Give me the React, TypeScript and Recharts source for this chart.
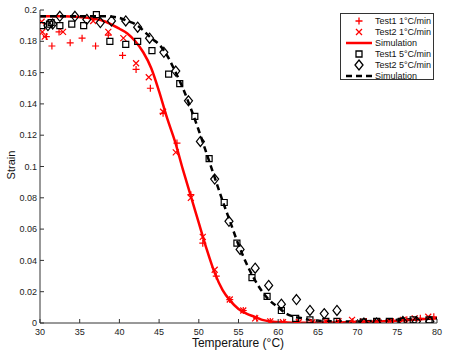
import React from 'react';
import { ComposedChart, Line, Scatter, XAxis, YAxis } from 'recharts';

const xTicks = [30, 35, 40, 45, 50, 55, 60, 65, 70, 75, 80];
const yTicks = [0, 0.02, 0.04, 0.06, 0.08, 0.1, 0.12, 0.14, 0.16, 0.18, 0.2];

// simulation curves
const simTemps = [30, 33, 36, 38, 40, 41, 42, 43, 44, 45, 46, 47, 48, 49, 50, 51, 52, 53, 54, 55, 56, 57, 58, 59, 60, 61, 62, 63, 64, 66, 70, 75, 80];
const simSlow = [0.196, 0.196, 0.195, 0.193, 0.188, 0.185, 0.18, 0.173, 0.163, 0.148, 0.131, 0.116, 0.098, 0.081, 0.064, 0.047, 0.032, 0.021, 0.014, 0.009, 0.006, 0.004, 0.002, 0.001, 0.0006, 0.0003, 0.0002, 0.0002, 0.0002, 0.0003, 0.0006, 0.0015, 0.003];
const simFast = [0.196, 0.196, 0.196, 0.196, 0.195, 0.193, 0.191, 0.187, 0.182, 0.178, 0.171, 0.161, 0.15, 0.137, 0.123, 0.108, 0.093, 0.078, 0.064, 0.05, 0.038, 0.028, 0.02, 0.014, 0.01, 0.006, 0.004, 0.003, 0.002, 0.0012, 0.001, 0.002, 0.003];

// test1 1°C/min (+)
const t1SlowT = [30.8, 31.5, 32.4, 33.8, 35.3, 37.0, 38.6, 40.4, 42.1, 43.9, 45.5, 47.25, 49.0, 50.5, 52.2, 53.9, 55.6, 57.3, 59.0, 60.7, 62.4, 64.2, 66.0, 67.7, 69.4, 71.1, 72.8, 74.5, 76.2, 77.9, 79.6];
const t1SlowS = [0.183, 0.177, 0.186, 0.179, 0.182, 0.177, 0.184, 0.171, 0.162, 0.15, 0.134, 0.115, 0.082, 0.051, 0.03, 0.015, 0.008, 0.003, 0.001, 0.0005, 0.0003, 0.0002, 0.0002, 0.0003, 0.001, 0.001, 0.001, 0.001, 0.002, 0.003, 0.004];

// test2 1°C/min (x)
const t2SlowT = [30.2, 30.3, 30.6, 32.9, 36.7, 38.6, 40.5, 42.1, 43.7, 45.5, 47.1, 49.0, 50.5, 52.0, 53.9, 55.6, 57.1, 59.0, 60.6, 62.6, 64.3, 66.0, 67.6, 69.3, 70.7, 72.4, 74.0, 75.7, 77.2, 78.9];
const t2SlowS = [0.1925, 0.186, 0.183, 0.186, 0.193, 0.186, 0.182, 0.166, 0.157, 0.135, 0.109, 0.08, 0.055, 0.034, 0.015, 0.008, 0.003, 0.001, 0.0005, 0.0005, 0.0005, 0.001, 0.001, 0.002, 0.001, 0.001, 0.001, 0.002, 0.003, 0.004];

// test1 5°C/min (square)
const t1FastT = [30.2, 31.2, 31.4, 32.5, 34.0, 35.5, 37.1, 38.8, 40.8, 42.3, 44.1, 46.2, 47.6, 49.5, 51.3, 53.2, 54.8, 56.7, 58.6, 60.4, 62.2, 64.0, 66.0, 67.4, 70.7, 72.4, 74.0, 75.5, 77.0, 79.0];
const t1FastS = [0.19, 0.191, 0.192, 0.19, 0.191, 0.19, 0.197, 0.18, 0.178, 0.18, 0.174, 0.159, 0.153, 0.132, 0.105, 0.077, 0.051, 0.029, 0.017, 0.008, 0.003, 0.002, 0.001, 0.001, 0.0005, 0.001, 0.001, 0.001, 0.002, 0.002];

// test2 5°C/min (diamond)
const t2FastT = [31.0, 31.6, 32.5, 34.4, 35.9, 37.6, 39.0, 40.8, 42.3, 43.8, 45.6, 47.1, 48.7, 50.2, 52.0, 53.8, 55.2, 57.1, 58.8, 60.4, 62.3, 64.0, 65.8, 67.4, 70.8, 72.4, 75.7, 77.4, 79.1];
const t2FastS = [0.19, 0.191, 0.196, 0.196, 0.194, 0.192, 0.193, 0.193, 0.189, 0.182, 0.173, 0.161, 0.142, 0.116, 0.092, 0.065, 0.047, 0.035, 0.024, 0.012, 0.015, 0.008, 0.006, 0.008, 0.0, 0.0, 0.001, 0.001, 0.001];

const zip = (t: number[], s: number[]) => t.map((x, i) => ({ t: x, s: s[i] }));

const font = '"Liberation Sans", Arial, sans-serif';
const RED = '#ff0000';

const plusPath = (x: number, y: number) => `M${x - 3.5},${y}h7M${x},${y - 3.5}v7`;
const crossPath = (x: number, y: number) => `M${x - 3},${y - 3}l6,6M${x - 3},${y + 3}l6,-6`;
const squarePath = (x: number, y: number) => `M${x - 3},${y - 3}h6v6h-6z`;
const diamondPath = (x: number, y: number) => `M${x},${y - 5}L${x + 4},${y}L${x},${y + 5}L${x - 4},${y}z`;

const PlusShape = (p: any) => <path d={plusPath(p.cx, p.cy)} stroke={RED} strokeWidth={1.2} fill="none" />;
const CrossShape = (p: any) => <path d={crossPath(p.cx, p.cy)} stroke={RED} strokeWidth={1.2} fill="none" />;
const SquareShape = (p: any) => <path d={squarePath(p.cx, p.cy)} stroke="#000" strokeWidth={1.2} fill="none" />;
const DiamondShape = (p: any) => <path d={diamondPath(p.cx, p.cy)} stroke="#000" strokeWidth={1.2} fill="none" />;

const fmtY = (v: number) => String(Number(v.toFixed(2)));

const legendRows = [
  { label: 'Test1 1°C/min', kind: 'plus' },
  { label: 'Test2 1°C/min', kind: 'cross' },
  { label: 'Simulation', kind: 'redline' },
  { label: 'Test1 5°C/min', kind: 'square' },
  { label: 'Test2 5°C/min', kind: 'diamond' },
  { label: 'Simulation', kind: 'dashline' },
];

const Legend = () => (
  <svg width={95} height={68} style={{ position: 'absolute', left: 340, top: 13 }}>
    <rect x={0.5} y={0.5} width={93} height={66} fill="#fff" stroke="#333" strokeWidth={1} />
    {legendRows.map((r, i) => {
      const y = 8 + i * 11;
      const cx = 19;
      let mark: React.ReactNode = null;
      if (r.kind === 'plus') mark = <path d={plusPath(cx, y)} stroke={RED} strokeWidth={1.3} fill="none" />;
      if (r.kind === 'cross') mark = <path d={crossPath(cx, y)} stroke={RED} strokeWidth={1.3} fill="none" />;
      if (r.kind === 'square') mark = <path d={squarePath(cx, y)} stroke="#000" strokeWidth={1.3} fill="none" />;
      if (r.kind === 'diamond') mark = <path d={diamondPath(cx, y)} stroke="#000" strokeWidth={1.3} fill="none" />;
      if (r.kind === 'redline') mark = <line x1={6} x2={32} y1={y} y2={y} stroke={RED} strokeWidth={2.5} />;
      if (r.kind === 'dashline') mark = <line x1={6} x2={32} y1={y} y2={y} stroke="#000" strokeWidth={2.5} strokeDasharray="6 4" />;
      return (
        <g key={i}>
          {mark}
          <text x={35} y={y + 3} fontSize={9} fontFamily={font} fill="#111">{r.label}</text>
        </g>
      );
    })}
  </svg>
);

export default function App() {
  return (
    <div style={{ position: 'absolute', left: 0, top: 0, width: 450, height: 352, background: '#fff', fontFamily: font }}>
      <ComposedChart width={450} height={352} margin={{ top: 10, right: 13, bottom: 0, left: 0 }}>
        <XAxis
          dataKey="t"
          type="number"
          domain={[30, 80]}
          ticks={xTicks}
          height={29}
          tickSize={-4}
          tickMargin={10}
          tick={{ fontSize: 9, fill: '#222', fontFamily: font }}
          stroke="#333"
          allowDataOverflow
        />
        <XAxis
          xAxisId="top"
          orientation="top"
          type="number"
          domain={[30, 80]}
          ticks={xTicks}
          height={0}
          tickSize={-4}
          tick={false}
          stroke="#333"
        />
        <YAxis
          type="number"
          domain={[0, 0.2]}
          ticks={yTicks}
          width={40}
          tickSize={-4}
          tickMargin={7}
          tickFormatter={fmtY}
          tick={{ fontSize: 9, fill: '#222', fontFamily: font }}
          stroke="#333"
          allowDataOverflow
        />
        <YAxis
          yAxisId="right"
          orientation="right"
          type="number"
          domain={[0, 0.2]}
          ticks={yTicks}
          width={0}
          tickSize={-4}
          tick={false}
          stroke="#333"
        />
        <Scatter data={zip(t1SlowT, t1SlowS)} dataKey="s" shape={PlusShape} isAnimationActive={false} />
        <Scatter data={zip(t2SlowT, t2SlowS)} dataKey="s" shape={CrossShape} isAnimationActive={false} />
        <Line data={zip(simTemps, simSlow)} dataKey="s" type="monotone" stroke={RED} strokeWidth={2.5} dot={false} isAnimationActive={false} />
        <Scatter data={zip(t1FastT, t1FastS)} dataKey="s" shape={SquareShape} isAnimationActive={false} />
        <Scatter data={zip(t2FastT, t2FastS)} dataKey="s" shape={DiamondShape} isAnimationActive={false} />
        <Line data={zip(simTemps, simFast)} dataKey="s" type="monotone" stroke="#000" strokeWidth={2.5} strokeDasharray="6 4" dot={false} isAnimationActive={false} />
      </ComposedChart>
      <div style={{ position: 'absolute', left: 4, top: 165, transform: 'translate(-50%, -50%) rotate(-90deg)', transformOrigin: 'center', fontSize: 11, color: '#111', whiteSpace: 'nowrap', marginLeft: 7 }}>
        Strain
      </div>
      <div style={{ position: 'absolute', left: 238, top: 343, transform: 'translate(-50%, -50%)', fontSize: 12, color: '#111', whiteSpace: 'nowrap' }}>
        Temperature (°C)
      </div>
      <Legend />
    </div>
  );
}
